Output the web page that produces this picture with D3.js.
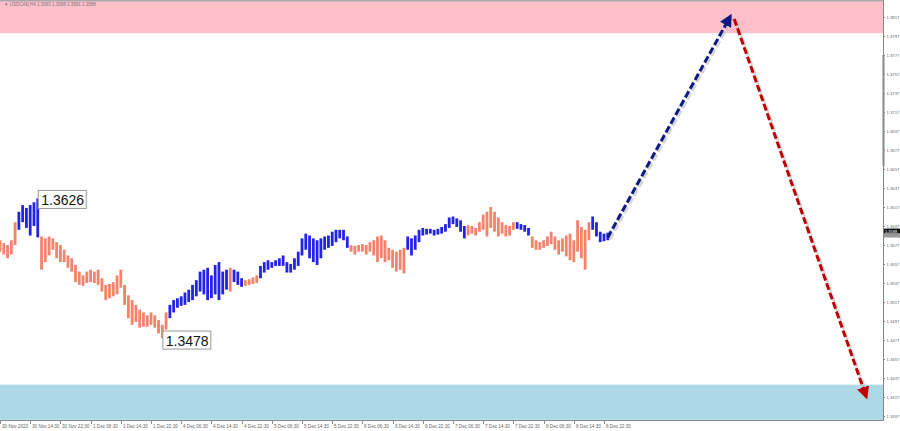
<!DOCTYPE html>
<html>
<head>
<meta charset="utf-8">
<script src="https://cdn.jsdelivr.net/npm/d3@7"></script>
<style>
  body { margin: 0; background: #fff; }
  svg { display: block; font-family: "Liberation Sans", Arial, sans-serif; }
  .axis path, .axis line { stroke: #888; }
</style>
</head>
<body>
<svg id="chart"></svg>
<script>
const title = '\u25BC USDCAD,H4  1.3583 1.3588 1.3581 1.3588'

// bar highs / lows, one per hour
const highs = [1.3582,1.3579,1.3577,1.3582,1.3601,1.3612,1.3619,1.3616,1.3619,1.3622,
  1.3626,1.3586,1.3584,1.3586,1.3584,1.3580,1.3577,1.3572,1.3566,1.3563,
  1.3556,1.3549,1.3545,1.3549,1.3551,1.3549,1.3551,1.3542,1.3535,1.3536,
  1.3538,1.3545,1.3551,1.3535,1.3524,1.3519,1.3514,1.3509,1.3506,1.3503,
  1.3506,1.3503,1.3498,1.3493,1.3506,1.3514,1.3519,1.3521,1.3523,1.3527,
  1.3530,1.3535,1.3540,1.3549,1.3551,1.3553,1.3545,1.3556,1.3559,1.3549,
  1.3551,1.3553,1.3551,1.3549,1.3542,1.3540,1.3541,1.3543,1.3545,1.3555,
  1.3559,1.3561,1.3559,1.3561,1.3563,1.3566,1.3559,1.3557,1.3563,1.3570,
  1.3584,1.3589,1.3587,1.3584,1.3582,1.3584,1.3586,1.3587,1.3591,1.3593,
  1.3593,1.3593,1.3586,1.3577,1.3576,1.3577,1.3578,1.3577,1.3580,1.3582,
  1.3586,1.3587,1.3582,1.3574,1.3572,1.3570,1.3572,1.3574,1.3586,1.3584,
  1.3587,1.3593,1.3595,1.3594,1.3594,1.3593,1.3594,1.3596,1.3599,1.3606,
  1.3607,1.3605,1.3603,1.3597,1.3598,1.3597,1.3595,1.3601,1.3609,1.3612,
  1.3617,1.3612,1.3606,1.3601,1.3598,1.3597,1.3601,1.3601,1.3599,1.3598,
  1.3595,1.3586,1.3582,1.3580,1.3582,1.3586,1.3591,1.3586,1.3582,1.3584,
  1.3587,1.3589,1.3582,1.3603,1.3596,1.3593,1.3601,1.3607,1.3601,1.3591,
  1.3589,1.3590]
const lows = [1.3570,1.3567,1.3563,1.3567,1.3577,1.3593,1.3601,1.3595,1.3587,1.3597,
  1.3585,1.3551,1.3559,1.3566,1.3572,1.3563,1.3559,1.3559,1.3553,1.3549,
  1.3538,1.3535,1.3534,1.3537,1.3538,1.3537,1.3535,1.3528,1.3519,1.3521,
  1.3523,1.3525,1.3532,1.3514,1.3500,1.3493,1.3496,1.3490,1.3491,1.3491,
  1.3493,1.3490,1.3484,1.3479,1.3488,1.3500,1.3506,1.3511,1.3513,1.3514,
  1.3517,1.3519,1.3523,1.3528,1.3525,1.3519,1.3521,1.3525,1.3519,1.3525,
  1.3530,1.3528,1.3538,1.3535,1.3533,1.3534,1.3535,1.3536,1.3537,1.3542,
  1.3548,1.3551,1.3553,1.3555,1.3555,1.3555,1.3548,1.3548,1.3551,1.3555,
  1.3566,1.3572,1.3563,1.3559,1.3556,1.3563,1.3572,1.3574,1.3576,1.3580,
  1.3584,1.3582,1.3574,1.3570,1.3567,1.3570,1.3570,1.3567,1.3570,1.3566,
  1.3559,1.3563,1.3559,1.3561,1.3553,1.3549,1.3551,1.3547,1.3572,1.3566,
  1.3572,1.3580,1.3587,1.3588,1.3589,1.3587,1.3588,1.3589,1.3591,1.3595,
  1.3599,1.3596,1.3591,1.3584,1.3587,1.3589,1.3587,1.3591,1.3593,1.3586,
  1.3595,1.3591,1.3586,1.3589,1.3586,1.3587,1.3593,1.3594,1.3593,1.3591,
  1.3587,1.3574,1.3572,1.3572,1.3574,1.3576,1.3578,1.3572,1.3567,1.3570,
  1.3565,1.3561,1.3559,1.3570,1.3563,1.3551,1.3582,1.3593,1.3586,1.3580,
  1.3581,1.3582]

// bar index ranges of the rising (blue) waves, the rest is falling
const upWaves = [[5, 10], [45, 60], [62, 64], [69, 92], [108, 123], [137, 140], [157, 161]]

const xLabels = ['30 Nov 2023', '30 Nov 14:30', '30 Nov 22:30', '1 Dec 06:30', '1 Dec 14:30',
  '1 Dec 22:30', '4 Dec 06:30', '4 Dec 14:30', '4 Dec 22:30', '5 Dec 06:30', '5 Dec 14:30',
  '5 Dec 22:30', '6 Dec 06:30', '6 Dec 14:30', '6 Dec 22:30', '7 Dec 06:30', '7 Dec 14:30',
  '7 Dec 22:30', '8 Dec 06:30', '8 Dec 14:30', '8 Dec 22:30']
const barsPerLabel = 8

const yTicks = [1.3817, 1.3797, 1.3777, 1.3757, 1.3737, 1.3717, 1.3697, 1.3677, 1.3657, 1.3637,
  1.3617, 1.3597, 1.3577, 1.3557, 1.3537, 1.3517, 1.3497, 1.3477, 1.3457, 1.3437, 1.3417, 1.3397]

// resistance / support zones [top, bottom]
const sellZone = [1.3836, 1.3800]
const buyZone = [1.3430, 1.3393]

// wave marks
const extremes = [{ i: 10, v: 1.3626, label: '1.3626' }, { i: 43, v: 1.3478, label: '1.3478' }]

// forecast arrows: [bar index, price]
const forecast = [
  { from: [161, 1.3585], to: [193.5, 1.3818], color: '#0d1a80' },
  { from: [194.5, 1.3815], to: [229.5, 1.3417], color: '#c00000' }
]
const lastPrice = 1.3588

const width = 900, height = 431
const plotRight = 883, plotBottom = 420

const svg = d3.select('#chart').attr('width', width).attr('height', height)

const x = d3.scaleLinear().domain([0, 160]).range([0, 604])
const y = d3.scaleLinear().domain([1.33928, 1.38349]).range([plotBottom, 0])

// zones
svg.append('rect')
  .attr('x', 0).attr('width', plotRight)
  .attr('y', 0).attr('height', y(sellZone[1]))
  .attr('fill', '#ffc0cb')
svg.append('rect')
  .attr('x', 0).attr('width', plotRight)
  .attr('y', y(buyZone[0])).attr('height', y(buyZone[1]) - y(buyZone[0]))
  .attr('fill', '#add8e6')

// top frame line
svg.append('line').attr('x1', 0).attr('x2', plotRight).attr('y1', 0.5).attr('y2', 0.5)
  .attr('stroke', '#aaa').attr('stroke-width', 2)

svg.append('text')
  .attr('x', 4).attr('y', 6)
  .attr('font-size', 4.5).attr('fill', '#777')
  .text(title)

// bars
function isUp(i) {
  return upWaves.some(w => i >= w[0] && i <= w[1])
}
svg.append('g').selectAll('line')
  .data(highs.map((h, i) => ({ i: i, h: h, l: lows[i] })))
  .join('line')
  .attr('x1', d => x(d.i)).attr('x2', d => x(d.i))
  .attr('y1', d => y(d.h)).attr('y2', d => y(d.l))
  .attr('stroke', d => isUp(d.i) ? '#2323e8' : '#f5826a')
  .attr('stroke-width', 2.8)

// extreme labels
const ext = svg.append('g').selectAll('g')
  .data(extremes)
  .join('g')
  .attr('transform', d => `translate(${x(d.i) + 0.5},${y(d.v) - 8})`)
ext.append('rect')
  .attr('width', 48).attr('height', 18)
  .attr('fill', '#fff').attr('stroke', '#999').attr('stroke-width', 1)
ext.append('text')
  .attr('x', 3).attr('y', 14.5)
  .attr('font-size', 14).attr('fill', '#111')
  .text(d => d.label)

// forecast arrows
const defs = svg.append('defs')
forecast.forEach((a, k) => {
  defs.append('marker')
    .attr('id', 'head' + k)
    .attr('viewBox', '0 0 10 10')
    .attr('refX', 8).attr('refY', 5)
    .attr('markerWidth', 4.2).attr('markerHeight', 4.2)
    .attr('markerUnits', 'strokeWidth')
    .attr('orient', 'auto')
    .append('path').attr('d', 'M0,0 L10,5 L0,10 Z').attr('fill', a.color)
})
const arrows = svg.append('g')
forecast.forEach((a, k) => {
  arrows.append('line')
    .attr('x1', x(a.from[0]) + 2).attr('y1', y(a.from[1]) + 2)
    .attr('x2', x(a.to[0]) + 2).attr('y2', y(a.to[1]) + 2)
    .attr('stroke', '#bbb').attr('stroke-width', 3).attr('stroke-dasharray', '7,3')
    .attr('opacity', 0.6)
  arrows.append('line')
    .attr('x1', x(a.from[0])).attr('y1', y(a.from[1]))
    .attr('x2', x(a.to[0])).attr('y2', y(a.to[1]))
    .attr('stroke', a.color).attr('stroke-width', 3).attr('stroke-dasharray', '7,3')
    .attr('marker-end', `url(#head${k})`)
})

// right price axis
const yAxis = svg.append('g')
  .attr('class', 'axis')
  .attr('transform', `translate(${plotRight},0)`)
  .call(d3.axisRight(y).tickValues(yTicks).tickSize(2).tickPadding(1.5).tickFormat(d3.format('.4f')))
yAxis.selectAll('text').attr('font-size', 4.2).attr('fill', '#666')
yAxis.select('.domain').attr('d', `M0.5,0V${plotBottom + 1}`)
yAxis.append('line')
  .attr('x1', 0.5).attr('x2', 0.5).attr('y1', 55).attr('y2', 166)
  .attr('stroke', '#666').attr('stroke-width', 2)

// last price tag
const tag = svg.append('g').attr('transform', `translate(${plotRight + 1},${y(lastPrice) - 6})`)
tag.append('rect').attr('width', 16).attr('height', 5).attr('fill', '#111')
tag.append('rect').attr('y', 5).attr('width', 16).attr('height', 4).attr('fill', '#999')
tag.append('text').attr('x', 1).attr('y', 4.3).attr('font-size', 4).attr('fill', '#fff')
  .text(d3.format('.4f')(lastPrice))

// bottom time axis
const xa = svg.append('g').attr('class', 'axis')
xa.append('line')
  .attr('x1', 0).attr('x2', plotRight + 1).attr('y1', plotBottom + 0.5).attr('y2', plotBottom + 0.5)
  .attr('stroke', '#888')
const xt = xa.selectAll('g.t')
  .data(xLabels)
  .join('g')
  .attr('class', 't')
  .attr('transform', (d, k) => `translate(${Math.round(x(k * barsPerLabel)) + 0.5},${plotBottom})`)
xt.append('line').attr('y1', 0).attr('y2', 4)
xt.append('text')
  .attr('x', 1.5).attr('y', 7.5)
  .attr('font-size', 4.6).attr('fill', '#666')
  .text(d => d)
</script>
</body>
</html>
